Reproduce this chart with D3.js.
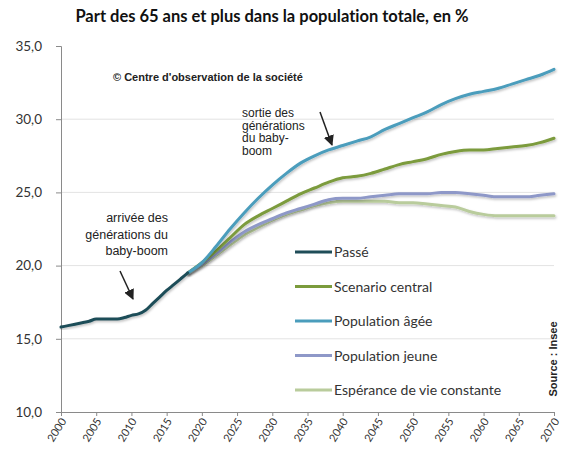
<!DOCTYPE html>
<html>
<head>
<meta charset="utf-8">
<script src="https://cdn.jsdelivr.net/npm/d3@7"></script>
<style>
  body { margin: 0; background: #fff; }
  svg text { font-variant-ligatures: none; font-feature-settings: "liga" 0; }
</style>
</head>
<body>
<div id="chart"></div>
<script>
// data
const yearsPast = d3.range(2000, 2019);
const passe = [15.8, 15.9, 16.0, 16.1, 16.2, 16.35, 16.35, 16.35, 16.35, 16.45, 16.6,
  16.7, 16.95, 17.4, 17.85, 18.3, 18.7, 19.1, 19.5];

const yearsProj = [2018, 2020, 2022, 2024, 2026, 2028, 2030, 2032, 2034, 2036, 2038, 2040,
  2042, 2044, 2046, 2048, 2050, 2052, 2054, 2056, 2058, 2060, 2062, 2064, 2066, 2068, 2070];
const central = [19.5, 20.2, 21.0, 21.9, 22.8, 23.4, 23.9, 24.4, 24.9, 25.3, 25.7, 26.0,
  26.1, 26.3, 26.6, 26.9, 27.1, 27.3, 27.6, 27.8, 27.9, 27.9, 28.0, 28.1, 28.2, 28.4, 28.7];
const agee = [19.5, 20.2, 21.3, 22.5, 23.6, 24.6, 25.5, 26.3, 27.0, 27.5, 27.9, 28.2,
  28.5, 28.8, 29.3, 29.7, 30.1, 30.5, 31.0, 31.4, 31.7, 31.9, 32.1, 32.4, 32.7, 33.0, 33.4];
const jeune = [19.5, 20.1, 20.8, 21.6, 22.3, 22.8, 23.2, 23.6, 23.9, 24.2, 24.5, 24.6,
  24.6, 24.7, 24.8, 24.9, 24.9, 24.9, 25.0, 25.0, 24.9, 24.8, 24.7, 24.7, 24.7, 24.8, 24.9];
const esperance = [19.5, 20.0, 20.7, 21.4, 22.1, 22.6, 23.1, 23.5, 23.8, 24.1, 24.3, 24.4,
  24.4, 24.4, 24.4, 24.3, 24.3, 24.2, 24.1, 24.0, 23.7, 23.5, 23.4, 23.4, 23.4, 23.4, 23.4];

const xTicks = d3.range(2000, 2071, 5);
const yTicks = [10, 15, 20, 25, 30, 35];

const series = [
  { name: "Espérance de vie constante", years: yearsProj, values: esperance, color: "#b9cc9c" },
  { name: "Population jeune", years: yearsProj, values: jeune, color: "#8e98c8" },
  { name: "Scenario central", years: yearsProj, values: central, color: "#7b9b3c" },
  { name: "Population âgée", years: yearsProj, values: agee, color: "#4b9dbc" },
  { name: "Passé", years: yearsPast, values: passe, color: "#1f4d58" }
];
const legendOrder = ["Passé", "Scenario central", "Population âgée", "Population jeune", "Espérance de vie constante"];

const svgWidth = 562, svgHeight = 453;
const margin = { top: 46, right: 8, bottom: 41, left: 61 };
const width = svgWidth - margin.left - margin.right;
const height = svgHeight - margin.top - margin.bottom;

const svg = d3.select("#chart").append("svg")
  .attr("width", svgWidth)
  .attr("height", svgHeight)
  .style("font-family", "Lato, 'Open Sans', sans-serif");

const defs = svg.append("defs");
const f = defs.append("filter").attr("id", "shadow")
  .attr("x", "-5%").attr("y", "-5%").attr("width", "110%").attr("height", "110%");
f.append("feDropShadow").attr("dx", 1).attr("dy", 1.5).attr("stdDeviation", 0.8)
  .attr("flood-color", "#000").attr("flood-opacity", 0.25);

const g = svg.append("g").attr("transform", "translate(" + margin.left + "," + margin.top + ")");

const x = d3.scaleLinear().domain([2000, 2070]).range([0, 493]);
const y = d3.scaleLinear().domain([10, 35]).range([height, 0]);

// title
svg.append("text")
  .attr("x", 272).attr("y", 22)
  .attr("text-anchor", "middle")
  .style("font-size", "16.5px").style("font-weight", "bold").style("fill", "#111")
  .text("Part des 65 ans et plus dans la population totale, en %");

// gridlines
g.append("g").selectAll("line")
  .data(yTicks.filter(d => d > 10 && d < 35))
  .join("line")
  .attr("x1", 0).attr("x2", 493)
  .attr("y1", d => y(d)).attr("y2", d => y(d))
  .attr("stroke", "#e3e3e3").attr("stroke-width", 1);

// y axis
const yAxis = g.append("g")
  .call(d3.axisLeft(y).tickValues(yTicks).tickSize(5).tickPadding(14)
    .tickFormat(d => d3.format(".1f")(d).replace(".", ",")));
yAxis.select(".domain").attr("stroke", "#8a8a8a");
yAxis.selectAll(".tick line").attr("stroke", "#8a8a8a");
yAxis.selectAll("text").style("font-size", "13.5px").style("fill", "#333")
  .style("font-family", "Lato, sans-serif");

// x axis
const xAxis = g.append("g")
  .attr("transform", "translate(0," + height + ")")
  .call(d3.axisBottom(x).tickValues(xTicks).tickSize(4).tickFormat(d3.format("d")));
xAxis.select(".domain").attr("stroke", "#8a8a8a");
xAxis.selectAll(".tick line").attr("stroke", "#8a8a8a");
xAxis.selectAll("text")
  .style("font-size", "11px").style("fill", "#333").style("font-family", "Lato, sans-serif")
  .attr("text-anchor", "end")
  .attr("x", 0).attr("y", 0).attr("dy", "0.35em")
  .attr("transform", "translate(2,7) rotate(-58)");

// lines
const line = d3.line()
  .x(d => x(d[0]))
  .y(d => y(d[1]))
  .curve(d3.curveMonotoneX);

series.forEach(s => {
  g.append("path")
    .datum(s.years.map((yr, i) => [yr, s.values[i]]))
    .attr("fill", "none")
    .attr("stroke", s.color)
    .attr("stroke-width", 3)
    .attr("stroke-linejoin", "round")
    .attr("stroke-linecap", "round")
    .attr("filter", "url(#shadow)")
    .attr("d", line);
});

// legend
const legend = svg.append("g").attr("transform", "translate(295,252)");
legendOrder.forEach((name, i) => {
  const s = series.find(d => d.name === name);
  const row = legend.append("g").attr("transform", "translate(0," + (i * 34.5) + ")");
  row.append("line").attr("x1", 0).attr("x2", 37).attr("y1", 0).attr("y2", 0)
    .attr("stroke", s.color).attr("stroke-width", 3);
  row.append("text").attr("x", 39).attr("y", 5)
    .style("font-size", "14px").style("fill", "#333")
    .text(name);
});

// notes
svg.append("text")
  .attr("x", 113).attr("y", 81)
  .style("font-family", "'Liberation Sans', Arial, sans-serif")
  .style("font-size", "11px").style("font-weight", "bold").style("fill", "#222")
  .text("© Centre d'observation de la société");

const note1 = svg.append("text")
  .style("font-family", "'Liberation Sans', Arial, sans-serif")
  .style("font-size", "12.5px").style("fill", "#222")
  .attr("text-anchor", "end");
["arrivée des", "générations du", "baby-boom"].forEach((t, i) => {
  note1.append("tspan").attr("x", 168).attr("y", 222 + i * 16.5).text(t);
});

const note2 = svg.append("text")
  .style("font-family", "'Liberation Sans', Arial, sans-serif")
  .style("font-size", "12px").style("fill", "#222");
["sortie des", "générations", "du baby-", "boom"].forEach((t, i) => {
  note2.append("tspan").attr("x", 242).attr("y", 117 + i * 12.5).text(t);
});

defs.append("marker").attr("id", "arrow")
  .attr("viewBox", "0 0 10 10").attr("refX", 9).attr("refY", 5)
  .attr("markerWidth", 7).attr("markerHeight", 7).attr("orient", "auto")
  .append("path").attr("d", "M0,0 L10,5 L0,10 z").attr("fill", "#222");

svg.append("line")
  .attr("x1", 120).attr("y1", 271).attr("x2", 133).attr("y2", 299)
  .attr("stroke", "#222").attr("stroke-width", 1.5).attr("marker-end", "url(#arrow)");
svg.append("line")
  .attr("x1", 320).attr("y1", 112).attr("x2", 332).attr("y2", 145)
  .attr("stroke", "#222").attr("stroke-width", 1.5).attr("marker-end", "url(#arrow)");

// source
svg.append("text")
  .attr("transform", "translate(557,359) rotate(-90)")
  .attr("text-anchor", "middle")
  .style("font-family", "'Liberation Sans', Arial, sans-serif")
  .style("font-size", "11px").style("font-weight", "bold").style("fill", "#222")
  .text("Source : Insee");
</script>
</body>
</html>
